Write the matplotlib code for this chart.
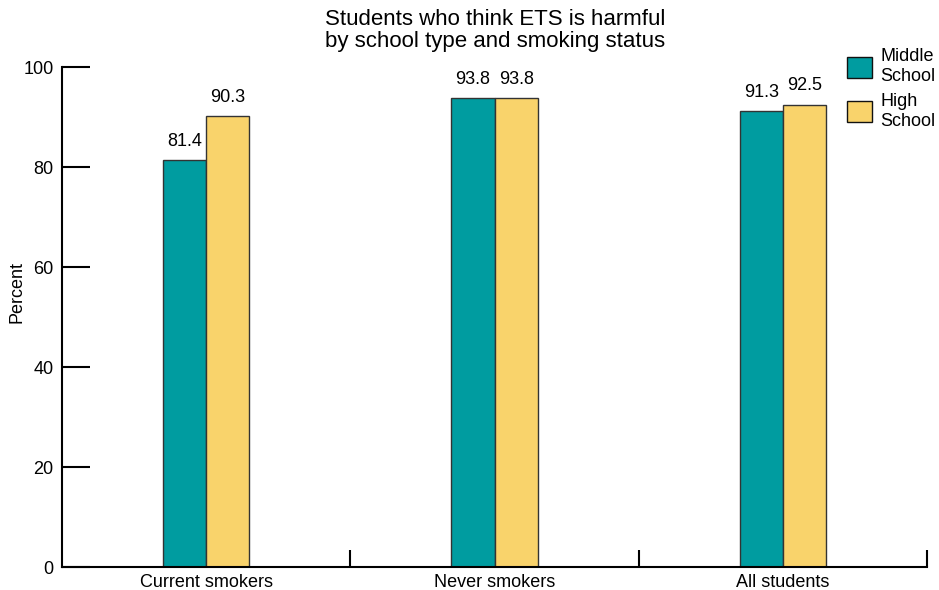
import numpy as np
import matplotlib
matplotlib.use("Agg")
import matplotlib.pyplot as plt
from matplotlib.patches import Patch

plt.rcParams["font.family"] = ["Liberation Sans", "DejaVu Sans"]

categories = ["Current smokers", "Never smokers", "All students"]
middle_school = [81.4, 93.8, 91.3]
high_school = [90.3, 93.8, 92.5]
series_names = ["Middle\nSchool", "High\nSchool"]
yticks = [0, 20, 40, 60, 80, 100]

TEAL = "#009ca0"
YELLOW = "#f9d36b"
EDGE = "#333333"

fig = plt.figure(figsize=(9.39, 5.9), dpi=100)
ax = fig.add_axes([62 / 939, 1 - 567 / 590, (927 - 62) / 939, 500 / 590])

x = np.arange(len(categories))
w = 0.15
b1 = ax.bar(x - w / 2, middle_school, w, color=TEAL, edgecolor=EDGE, linewidth=1)
b2 = ax.bar(x + w / 2, high_school, w, color=YELLOW, edgecolor=EDGE, linewidth=1)

for bars, vals in [(b1, middle_school), (b2, high_school)]:
    for rect, v in zip(bars, vals):
        ax.text(rect.get_x() + rect.get_width() / 2, v + 2.0, "%.1f" % v,
                ha="center", va="bottom", fontsize=13)

ax.set_xlim(-0.5, len(categories) - 0.5)
ax.set_ylim(0, 100)
ax.set_yticks(yticks)
ax.tick_params(axis="y", direction="in", length=20, width=1.5, labelsize=13, pad=6)
ax.set_xticks(x)
ax.set_xticklabels(categories, fontsize=13)
ax.tick_params(axis="x", length=0, pad=5)
# boundary ticks between categories
ax.set_xticks(np.arange(0.5, len(categories), 1.0), minor=True)
ax.tick_params(axis="x", which="minor", direction="in", length=12, width=1.5)

for s in ["top", "right"]:
    ax.spines[s].set_visible(False)
for s in ["left", "bottom"]:
    ax.spines[s].set_linewidth(1.5)

ax.set_ylabel("Percent", fontsize=13)
ax.yaxis.set_label_coords(-0.042, 0.55)
fig.text(0.527, 0.985, "Students who think ETS is harmful\nby school type and smoking status",
         ha="center", va="top", fontsize=16, linespacing=1.05)

handles = [Patch(facecolor=TEAL, edgecolor="#111111"),
           Patch(facecolor=YELLOW, edgecolor="#111111")]
fig.legend(handles, series_names, loc="upper left", bbox_to_anchor=(0.902, 0.918),
           frameon=False, fontsize=13, handlelength=1.4, handleheight=1.4,
           handletextpad=0.45, labelspacing=0.45, borderaxespad=0, borderpad=0)

fig.savefig("out.png", dpi=100)
